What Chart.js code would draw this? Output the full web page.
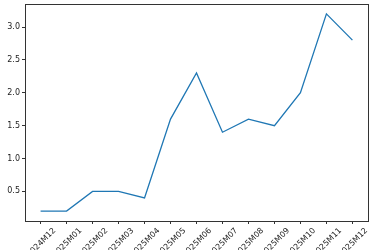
<!DOCTYPE html>
<html>
<head>
<meta charset="utf-8">
<script src="https://cdn.jsdelivr.net/npm/chart.js@4"></script>
<style>
  html, body { margin: 0; padding: 0; background: #fff; overflow: hidden; }
  canvas { display: block; }
</style>
</head>
<body>
<canvas id="lineChart" width="375" height="250"></canvas>
<script>
// data
const periods = ['2024M12', '2025M01', '2025M02', '2025M03', '2025M04', '2025M05', '2025M06',
                 '2025M07', '2025M08', '2025M09', '2025M10', '2025M11', '2025M12'];
const values = [0.2, 0.2, 0.5, 0.5, 0.4, 1.6, 2.3, 1.4, 1.6, 1.5, 2.0, 3.2, 2.8];
const yTicks = [0.5, 1.0, 1.5, 2.0, 2.5, 3.0];

const tickFont = { family: 'DejaVu Sans', size: 8 };
const axisColor = '#333';

// matplotlib style box around the plot area
const frame = {
    id: 'frame',
    afterDraw(chart) {
        const { ctx, chartArea: a } = chart;
        ctx.save();
        ctx.strokeStyle = axisColor;
        ctx.lineWidth = 1;
        ctx.strokeRect(Math.round(a.left) + 0.5, Math.round(a.top) + 0.5,
                       Math.round(a.right - a.left), Math.round(a.bottom - a.top));
        ctx.restore();
    }
};

const ctx = document.getElementById('lineChart').getContext('2d');
const lineChart = new Chart(ctx, {
    type: 'line',
    data: {
        datasets: [{
            data: values.map((v, i) => ({ x: i, y: v })),
            borderColor: '#1f77b4',
            borderWidth: 1.3,
            pointRadius: 0,
            tension: 0,
            fill: false
        }]
    },
    options: {
        responsive: false,
        animation: false,
        devicePixelRatio: 1,
        layout: { padding: { top: 4, right: 7, left: 0, bottom: 0 } },
        plugins: { legend: { display: false }, tooltip: { enabled: false } },
        scales: {
            x: {
                type: 'linear',
                min: -0.6,
                max: 12.6,
                afterBuildTicks: s => { s.ticks = periods.map((p, i) => ({ value: i })); },
                afterFit: s => { s.height = 29; s.paddingLeft = 0; s.paddingRight = 0; },
                border: { display: false },
                grid: { drawOnChartArea: false, drawTicks: true, tickLength: 3, color: axisColor },
                ticks: {
                    autoSkip: false,
                    minRotation: 45,
                    maxRotation: 45,
                    labelOffset: 14,
                    padding: 2,
                    color: '#222',
                    font: tickFont,
                    callback: v => periods[v]
                }
            },
            y: {
                min: 0.05,
                max: 3.35,
                afterBuildTicks: s => { s.ticks = yTicks.map(v => ({ value: v })); },
                afterFit: s => { s.width = 25; s.paddingTop = 0; s.paddingBottom = 0; },
                border: { display: false },
                grid: { drawOnChartArea: false, drawTicks: true, tickLength: 3, color: axisColor },
                ticks: {
                    padding: 2,
                    color: '#222',
                    font: tickFont,
                    callback: v => v.toFixed(1)
                }
            }
        }
    },
    plugins: [frame]
});
</script>
</body>
</html>
